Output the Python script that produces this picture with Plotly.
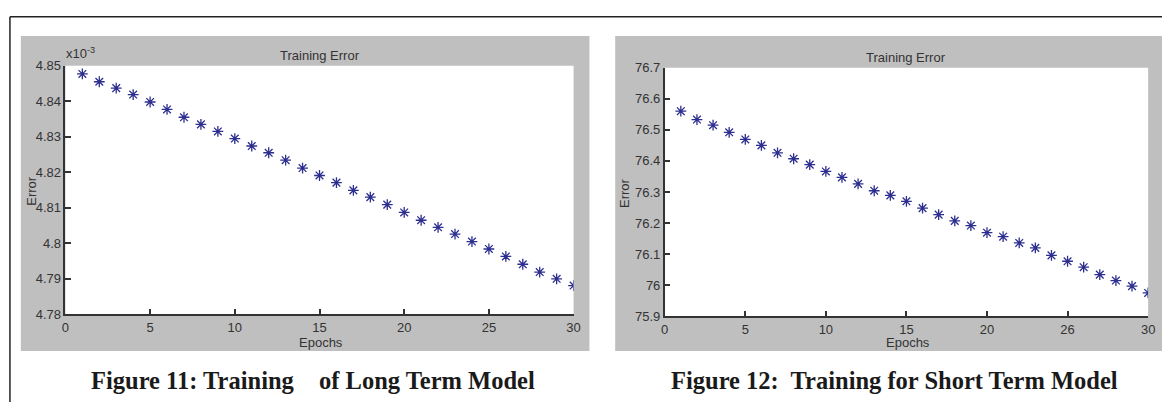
import plotly.graph_objects as go

# ---------------- data ----------------
epochs = list(range(1, 31))

# Long term model training error (units of 1e-3)
long_err = [4.8477, 4.8455, 4.8437, 4.8419, 4.8398, 4.8377, 4.8355, 4.8335, 4.8315, 4.8295,
            4.8274, 4.8255, 4.8234, 4.8212, 4.8191, 4.8171, 4.8149, 4.8130, 4.8109, 4.8087,
            4.8065, 4.8045, 4.8026, 4.8005, 4.7984, 4.7963, 4.7941, 4.7919, 4.7900, 4.7881]

# Short term model training error
short_err = [76.560, 76.533, 76.515, 76.492, 76.469, 76.450, 76.426, 76.407, 76.388, 76.366,
             76.347, 76.326, 76.304, 76.289, 76.270, 76.248, 76.227, 76.207, 76.192, 76.169,
             76.156, 76.136, 76.120, 76.096, 76.077, 76.058, 76.034, 76.015, 75.997, 75.975]

x_tickvals = [0, 5, 10, 15, 20, 25, 30]
x_ticktext_long = ["0", "5", "10", "15", "20", "25", "30"]
x_ticktext_short = ["0", "5", "10", "15", "20", "26", "30"]

y_tickvals_long = [4.78, 4.79, 4.80, 4.81, 4.82, 4.83, 4.84, 4.85]
y_ticktext_long = ["4.78", "4.79", "4.8", "4.81", "4.82", "4.83", "4.84", "4.85"]
y_tickvals_short = [75.9, 76.0, 76.1, 76.2, 76.3, 76.4, 76.5, 76.6, 76.7]
y_ticktext_short = ["75.9", "76", "76.1", "76.2", "76.3", "76.4", "76.5", "76.6", "76.7"]

title_text = "Training Error"
xlabel = "Epochs"
ylabel = "Error"
exp_label = "x10<sup>-3</sup>"
cap11a = "Figure 11: Training"
cap11b = "of Long Term Model"
cap12 = "Figure 12:  Training for Short Term Model"

# ---------------- layout helpers ----------------
W, H = 1169, 410
def px(x):
    return x / W
def py(y):
    return 1 - y / H

TXT = "#333333"
AX = "#333333"
MK = "#2d2f8f"
GREY = "#bfbfbf"
SANS = "Liberation Sans, Arial, sans-serif"
SERIF = "Liberation Serif, Times New Roman, serif"

L_plot = (62, 61, 575, 319)     # x0, y0, x1, y1 in pixels
R_plot = (667, 63, 1155, 321)
L_panel = (17, 30, 591, 357)
R_panel = (617, 30, 1169, 357)

fig = go.Figure()

marker = dict(symbol="asterisk-open", size=9, color=MK, line=dict(color=MK, width=1.3))
fig.add_trace(go.Scatter(x=epochs, y=long_err, mode="markers", marker=marker,
                         xaxis="x", yaxis="y", showlegend=False))
fig.add_trace(go.Scatter(x=epochs, y=short_err, mode="markers", marker=marker,
                         xaxis="x2", yaxis="y2", showlegend=False))

def axis_common():
    return dict(showline=True, linecolor=AX, linewidth=1.5, mirror=False,
                ticks="inside", ticklen=6, tickwidth=1.5, tickcolor=AX,
                showgrid=False, zeroline=False,
                tickfont=dict(family=SANS, size=13, color=TXT))

fig.update_layout(
    width=W, height=H, autosize=False,
    margin=dict(l=0, r=0, t=0, b=0),
    paper_bgcolor="white", plot_bgcolor="white",
    xaxis=dict(domain=[px(L_plot[0]), px(L_plot[2])], range=[0, 30], anchor="y",
               tickmode="array", tickvals=x_tickvals, ticktext=x_ticktext_long, **axis_common()),
    yaxis=dict(domain=[py(L_plot[3]), py(L_plot[1])], range=[4.78, 4.85], anchor="x",
               tickmode="array", tickvals=y_tickvals_long, ticktext=y_ticktext_long, **axis_common()),
    xaxis2=dict(domain=[px(R_plot[0]), px(R_plot[2])], range=[0, 30], anchor="y2",
                tickmode="array", tickvals=x_tickvals, ticktext=x_ticktext_short, **axis_common()),
    yaxis2=dict(domain=[py(R_plot[3]), py(R_plot[1])], range=[75.9, 76.7], anchor="x2",
                tickmode="array", tickvals=y_tickvals_short, ticktext=y_ticktext_short, **axis_common()),
)

shapes = []
for (x0, y0, x1, y1), (a0, b0, a1, b1) in [(L_panel, L_plot), (R_panel, R_plot)]:
    shapes.append(dict(type="rect", xref="paper", yref="paper", layer="below",
                       x0=px(x0), x1=px(x1), y0=py(y1), y1=py(y0),
                       fillcolor=GREY, line=dict(width=0)))
    shapes.append(dict(type="rect", xref="paper", yref="paper", layer="below",
                       x0=px(a0), x1=px(a1), y0=py(b1), y1=py(b0),
                       fillcolor="white", line=dict(width=0)))
# outer frame lines
shapes.append(dict(type="line", xref="paper", yref="paper", x0=px(6), x1=1, y0=py(10), y1=py(10),
                   line=dict(color="#222222", width=1.5)))
shapes.append(dict(type="line", xref="paper", yref="paper", x0=px(6), x1=px(6), y0=0, y1=py(10),
                   line=dict(color="#222222", width=1.5)))
fig.update_layout(shapes=shapes)

ann = []
for (a0, b0, a1, b1) in [L_plot, R_plot]:
    cx = (a0 + a1) / 2
    cy = (b0 + b1) / 2
    ann.append(dict(text=title_text, x=px(cx), y=py(b0 - 11), xref="paper", yref="paper",
                    xanchor="center", yanchor="middle", showarrow=False,
                    font=dict(family=SANS, size=13, color=TXT)))
    ann.append(dict(text=xlabel, x=px(cx + 2), y=py(348), xref="paper", yref="paper",
                    xanchor="center", yanchor="middle", showarrow=False,
                    font=dict(family=SANS, size=13, color=TXT)))
    ann.append(dict(text=ylabel, x=px(a0 - 35 if a0 < 300 else a0 - 40), y=py(cy + 1), xref="paper", yref="paper",
                    xanchor="center", yanchor="middle", showarrow=False, textangle=-90,
                    font=dict(family=SANS, size=13, color=TXT)))

ann.append(dict(text=exp_label, x=px(61), y=py(58), xref="paper", yref="paper",
                xanchor="left", yanchor="bottom", showarrow=False,
                font=dict(family=SANS, size=13, color=TXT)))

ann.append(dict(text="<b>" + cap11a + "</b>", x=px(86), y=py(388), xref="paper", yref="paper",
                xanchor="left", yanchor="middle", showarrow=False,
                font=dict(family=SERIF, size=24.5, color="#1a1a1a")))
ann.append(dict(text="<b>" + cap11b + "</b>", x=px(316), y=py(388), xref="paper", yref="paper",
                xanchor="left", yanchor="middle", showarrow=False,
                font=dict(family=SERIF, size=24.5, color="#1a1a1a")))
ann.append(dict(text="<b>" + cap12 + "</b>", x=px(899), y=py(388), xref="paper", yref="paper",
                xanchor="center", yanchor="middle", showarrow=False,
                font=dict(family=SERIF, size=24.5, color="#1a1a1a")))
fig.update_layout(annotations=ann)

fig.write_html("out.html", config={"displayModeBar": False},
               post_script="document.body.style.margin='0';document.body.style.overflow='hidden';")
